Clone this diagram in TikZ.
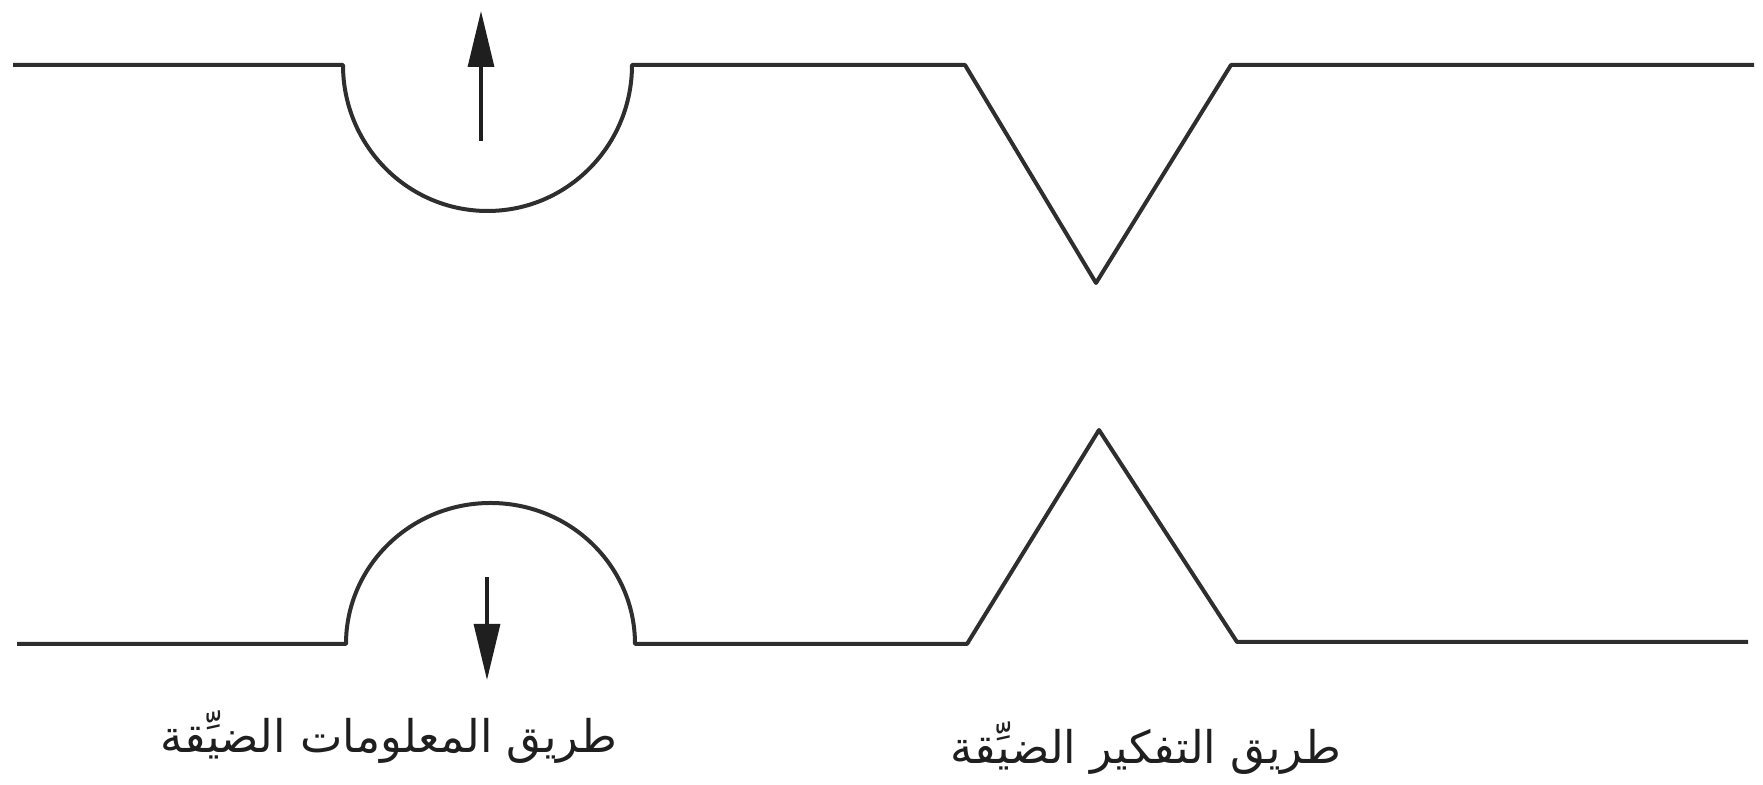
\documentclass[tikz,border=0pt]{standalone}
\usepackage{fontspec}
\newfontfamily\arabicfont[Script=Arabic]{DejaVu Sans}
\TeXXeTstate=1
\usetikzlibrary{arrows.meta}
\tikzset{
  road/.style={line width=2pt, draw=black!82, line join=round},
  flowarrow/.style={line width=1.6pt, draw=black!88, -{Triangle[length=28pt,width=13pt]}},
  label/.style={font=\arabicfont\fontsize{22.5pt}{27pt}\selectfont, text=black!88, inner sep=0pt}
}
\begin{document}
\begin{tikzpicture}[x=0.5pt,y=0.5pt]
\useasboundingbox (0,0) rectangle (1763,785);
% top road
\draw[road] (13,720) -- (343,720)
  arc[start angle=180, end angle=360, x radius=72.25pt, y radius=73pt]
  -- (965,720) -- (1096,502) -- (1231,720) -- (1754,720);
% bottom road
\draw[road] (17,141) -- (346,141)
  arc[start angle=180, end angle=0, x radius=72.25pt, y radius=70.5pt]
  -- (967,141) -- (1099,355) -- (1237,143) -- (1748,143);
% arrows
\coordinate (a1) at (481,644);
\coordinate (a1t) at (481,774);
\coordinate (a2) at (487,208);
\coordinate (a2t) at (487,105);
\draw[flowarrow] (a1) -- (a1t);
\draw[flowarrow] (a2) -- (a2t);
% labels
\node[label] (l1) at (389,48) {\beginR طريق المعلومات الضيِّقة\endR};
\node[label] (l2) at (1146,37) {\beginR طريق التفكير الضيِّقة\endR};
\end{tikzpicture}
\end{document}
